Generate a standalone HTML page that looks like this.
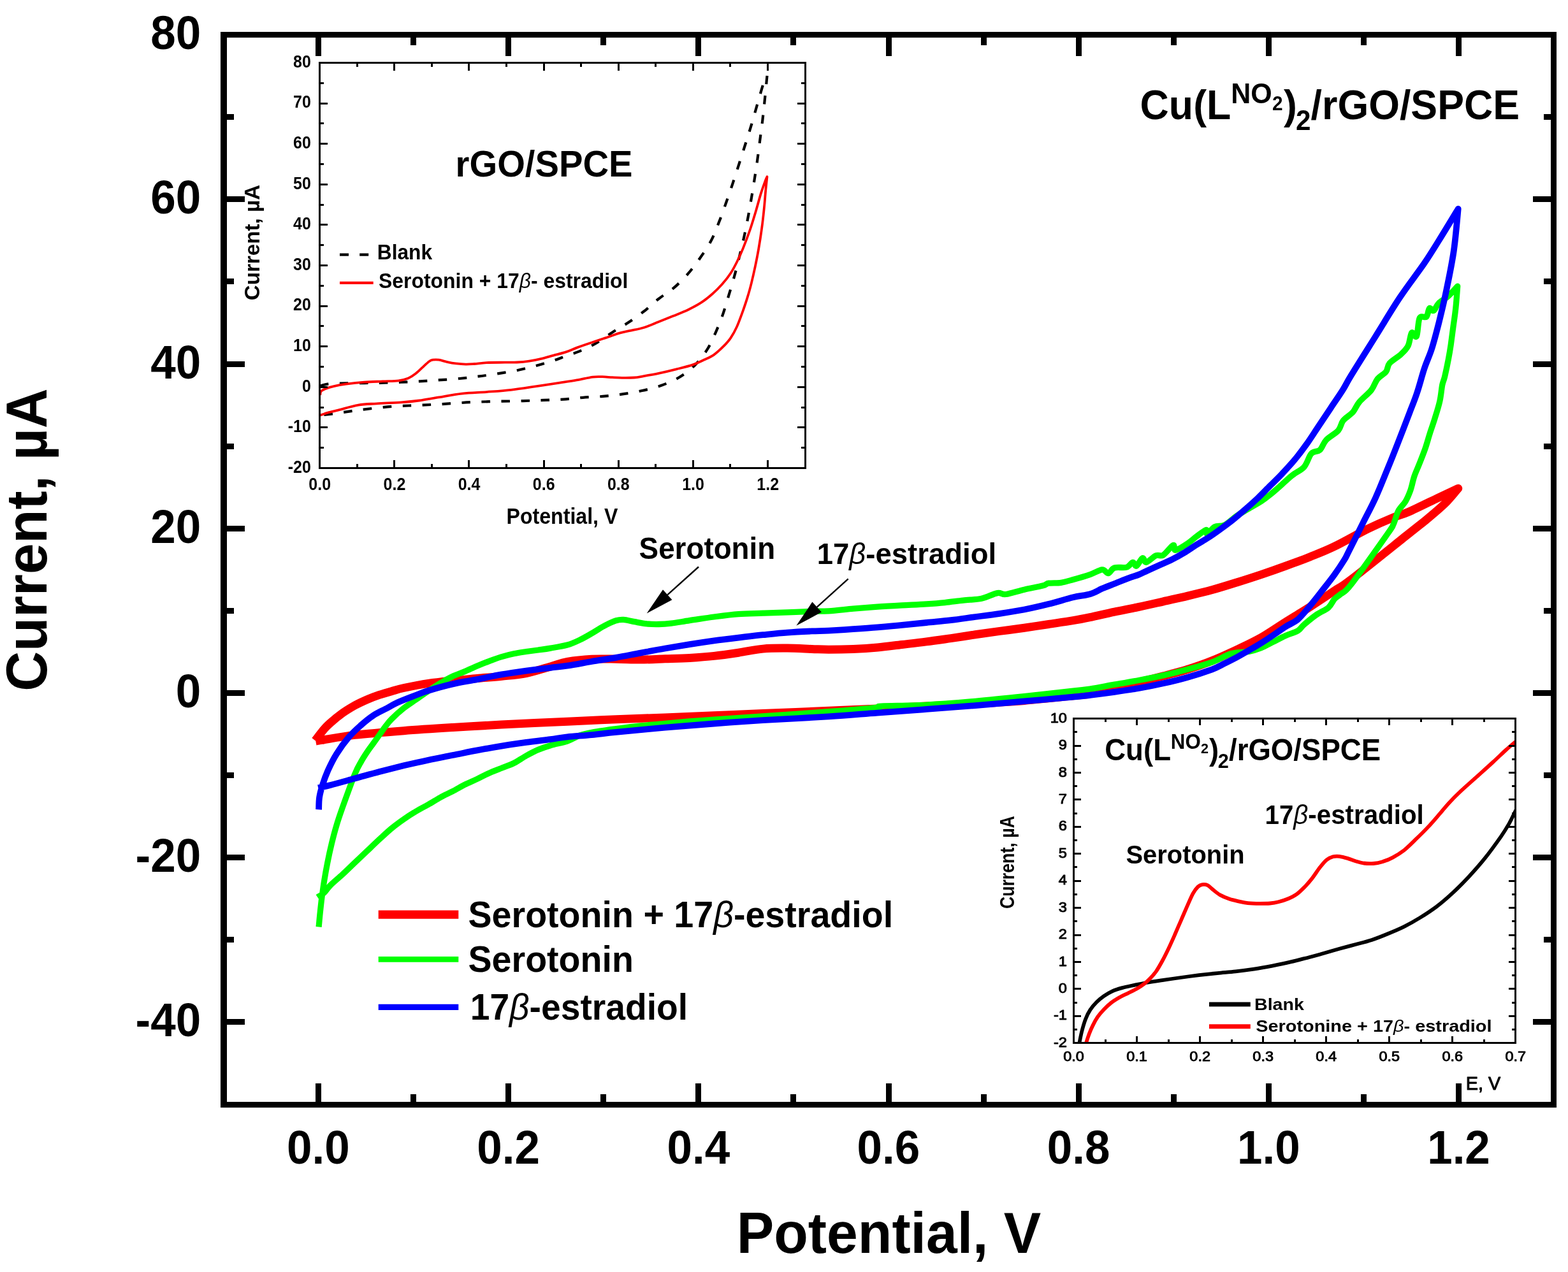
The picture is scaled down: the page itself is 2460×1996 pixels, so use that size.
<!DOCTYPE html>
<html lang="en">
<head>
<meta charset="utf-8">
<title>Cyclic voltammograms of serotonin and 17β-estradiol</title>
<style>
html,body{margin:0;padding:0;background:#fff;}
body{width:2460px;height:1996px;overflow:hidden;}
svg{display:block;}
</style>
</head>
<body>
<svg width="2460" height="1996" viewBox="0 0 2460 1996" font-family="'Liberation Sans', sans-serif" font-weight="bold" fill="#000">
<rect width="2460" height="1996" fill="#fff"/>
<g fill="none" stroke-linejoin="round" stroke-linecap="butt">
<path d="M494.4 1162C496.8 1159 504.8 1148.4 508.8 1143.8C512.8 1139.1 513.6 1138.3 518.4 1134.2C523.2 1130 531.2 1123.4 537.6 1118.8C544 1114.3 550.4 1110.5 556.7 1106.9C563.1 1103.4 569.5 1100.5 575.9 1097.7C582.3 1095 588.7 1092.6 595.1 1090.4C601.5 1088.3 607.9 1086.5 614.3 1084.7C620.7 1082.9 623.9 1081.6 633.5 1079.5C643.1 1077.5 659.1 1074.3 671.9 1072.4C684.7 1070.5 697.4 1069.3 710.2 1068C723 1066.7 735.8 1065.7 748.6 1064.5C761.4 1063.4 774.2 1062.6 787 1061.3C799.8 1059.9 812.6 1059 825.4 1056.5C838.1 1053.9 853 1048.9 863.7 1045.9C874.5 1042.9 879.2 1040.4 890 1038.4C900.8 1036.5 915.6 1034.9 928.4 1034.2C941.2 1033.5 954 1034 966.7 1034.2C979.5 1034.3 992.3 1035.2 1005.1 1035.1C1017.9 1035.1 1030.7 1034.3 1043.5 1033.8C1056.3 1033.4 1069.1 1033.2 1081.9 1032.5C1094.7 1031.7 1107.4 1030.8 1120.2 1029.4C1133 1028 1145.8 1026.1 1158.6 1024.2C1171.4 1022.3 1184.2 1019.3 1197 1018.1C1209.8 1016.9 1222.6 1017 1235.4 1017.1C1248.1 1017.2 1263 1018.1 1273.7 1018.5C1284.5 1018.8 1289.2 1019.2 1300 1019.2C1310.8 1019.2 1325.6 1019 1338.4 1018.5C1351.2 1017.9 1364 1017.1 1376.7 1016C1389.5 1014.8 1402.3 1013 1415.1 1011.5C1427.9 1010 1440.7 1008.6 1453.5 1006.9C1466.3 1005.3 1479.1 1003.4 1491.9 1001.6C1504.7 999.7 1517.4 997.7 1530.2 995.8C1543 994 1555.8 992.2 1568.6 990.4C1581.4 988.7 1594.2 987.1 1607 985.3C1619.8 983.4 1632.6 981.4 1645.4 979.5C1658.1 977.6 1673 975.5 1683.7 973.7C1694.5 972 1699.2 971 1710 968.7C1720.8 966.4 1735.6 962.8 1748.4 960.1C1761.2 957.4 1774 955.1 1786.7 952.4C1799.5 949.7 1812.3 946.7 1825.1 943.8C1837.9 940.9 1850.7 938.2 1863.5 935.1C1876.3 932.1 1889.1 929.1 1901.9 925.6C1914.7 922 1927.4 918 1940.2 914C1953 910 1965.8 905.9 1978.6 901.6C1991.4 897.3 2004.2 892.8 2017 888.1C2029.8 883.5 2042.6 878.9 2055.4 873.7C2068.1 868.6 2078.7 864.7 2093.7 857.4C2108.7 850.2 2130.4 837.6 2145.4 830.1C2160.4 822.7 2173 817.3 2183.7 812.9C2194.5 808.4 2197.8 808.6 2210 803.3C2222.2 797.9 2244 787 2257 780.8C2269.9 774.7 2282.6 768.8 2287.7 766.4C2284.2 770.4 2274.9 782.3 2266.6 790.4C2258.3 798.6 2247.4 807.4 2237.8 815.4C2228.2 823.3 2228.6 822.7 2209 838.4C2189.4 854 2139.2 894.5 2120 909.2C2100.8 924 2104.5 919.7 2093.7 926.9C2083 934.1 2068.1 944 2055.4 952.2C2042.6 960.4 2029.8 968 2017 976C2004.2 984 1991.4 993.1 1978.6 1000.4C1965.8 1007.6 1953 1013.5 1940.2 1019.6C1927.4 1025.6 1914.7 1031.5 1901.9 1036.6C1889.1 1041.8 1876.3 1046.2 1863.5 1050.3C1850.7 1054.3 1837.9 1057.5 1825.1 1060.8C1812.3 1064.2 1799.5 1067.4 1786.7 1070.4C1774 1073.4 1761.2 1076 1748.4 1079C1735.6 1082.1 1720.8 1086.8 1710 1088.9C1699.2 1091 1700.9 1090 1683.7 1091.7C1666.6 1093.5 1632.6 1097.3 1607 1099.4C1581.4 1101.5 1555.8 1102.8 1530.2 1104.2C1504.7 1105.7 1479.1 1106.8 1453.5 1108.1C1427.9 1109.3 1402.3 1110.7 1376.7 1111.9C1351.2 1113.1 1330 1114.1 1300 1115.3C1270.1 1116.6 1226.9 1118.3 1197 1119.6C1167 1120.8 1145.8 1121.8 1120.2 1122.8C1094.7 1123.9 1069.1 1124.9 1043.5 1125.9C1017.9 1126.9 992.3 1127.7 966.7 1128.8C941.2 1129.8 920 1130.9 890 1132.3C860.1 1133.6 816.9 1135.5 787 1137.1C757 1138.6 735.8 1139.9 710.2 1141.5C684.7 1143.1 659.1 1144.7 633.5 1146.7C607.9 1148.6 578.2 1150.9 556.7 1153.4C535.3 1155.8 515.2 1159.8 504.9 1161.4C494.7 1163 496.9 1162.7 495.3 1163" stroke="#f00" stroke-width="13"/>
<path d="M500.1 1454.4C500.5 1450.8 501.3 1440.9 502.1 1433.3C502.9 1425.6 503.8 1416.9 504.9 1408.3C506.1 1399.7 507.3 1390.4 508.8 1381.5C510.2 1372.5 511.7 1364.2 513.6 1354.6C515.5 1345 517.9 1333.8 520.3 1323.9C522.7 1314 525.1 1304.7 528 1295.1C530.8 1285.5 532.8 1279.7 537.6 1266.3C542.4 1252.9 551.9 1226.6 556.7 1214.8C561.5 1203 563.1 1201.3 566.3 1195.6C569.5 1189.8 572.7 1185 575.9 1180.2C579.1 1175.4 582.3 1171.3 585.5 1166.8C588.7 1162.3 591.9 1157.9 595.1 1153.4C598.3 1148.9 601.5 1144.1 604.7 1139.9C607.9 1135.8 609.5 1133.2 614.3 1128.4C619.1 1123.6 627.1 1116.3 633.5 1111.2C639.9 1106 646.3 1102.2 652.7 1097.7C659.1 1093.3 665.5 1088.6 671.9 1084.3C678.3 1080 684.7 1075.7 691.1 1071.8C697.4 1068 703.8 1064.3 710.2 1061.3C716.6 1058.2 723 1056.3 729.4 1053.6C735.8 1050.9 742.2 1047.7 748.6 1045C755 1042.3 761.4 1039.7 767.8 1037.3C774.2 1034.9 780.6 1032.5 787 1030.6C793.4 1028.7 799.8 1027.1 806.2 1025.8C812.6 1024.4 819 1023.5 825.4 1022.5C831.8 1021.6 838.1 1020.9 844.5 1020C850.9 1019.1 856.2 1018.5 863.7 1017.1C871.3 1015.8 882.4 1014.2 890 1012.1C897.6 1010 902.8 1007.5 909.2 1004.4C915.6 1001.4 922 997.6 928.4 993.9C934.8 990.2 941.2 985.7 947.6 982.4C954 979 961.6 975.4 966.7 973.7C971.9 972.1 973.5 972.1 978.3 972.4C983.1 972.7 989.4 974.6 995.5 975.7C1001.6 976.8 1008.3 978.3 1014.7 978.9C1021.1 979.6 1027.5 979.6 1033.9 979.5C1040.3 979.4 1045.1 979.1 1053.1 978.2C1061.1 977.2 1070.7 975.4 1081.9 973.7C1093.1 972.1 1107.4 969.7 1120.2 968C1133 966.3 1145.8 964.5 1158.6 963.6C1171.4 962.6 1184.2 962.7 1197 962.2C1209.8 961.8 1222.6 961.4 1235.4 960.9C1248.1 960.4 1263 959.7 1273.7 959.4C1284.5 959 1289.2 959.5 1300 958.8C1310.8 958.1 1325.6 956.3 1338.4 955.1C1351.2 954 1364 953 1376.7 952.1C1389.5 951.2 1402.3 950.5 1415.1 949.8C1427.9 949.1 1442.3 948.6 1453.5 947.8C1464.7 947.1 1472.7 946.5 1482.3 945.5C1491.9 944.6 1501.5 943.1 1511.1 942.1C1520.6 941 1530.9 941.1 1539.8 939.2C1548.8 937.3 1558.4 931.7 1564.8 930.6C1571.2 929.5 1571.2 933.4 1578.2 932.5C1585.2 931.6 1597.4 927.4 1607 925.2C1616.6 923 1629.4 920.7 1635.8 919.1C1642.2 917.4 1640.6 916 1645.4 915.2C1650.2 914.4 1658.1 915.2 1664.5 914.3C1670.9 913.3 1676.2 911.6 1683.7 909.5C1691.3 907.4 1702.4 904.2 1710 901.6C1717.6 899 1724.4 894.2 1729.2 893.9C1734 893.6 1735.6 900.1 1738.8 899.7C1742 899.2 1743.6 892.6 1748.4 891C1753.2 889.4 1762.8 891.5 1767.6 890.1C1772.4 888.6 1774.6 882.7 1777.2 882.4C1779.7 882.1 1780.4 889.3 1782.9 888.1C1785.5 887 1789.9 876.6 1792.5 875.7C1795.1 874.7 1794.7 883 1798.3 882.4C1801.8 881.7 1809.1 873.7 1813.6 871.8C1818.1 869.9 1820.6 873.6 1825.1 870.9C1829.6 868.2 1837.3 856.8 1840.5 855.5C1843.7 854.2 1840.5 863.7 1844.3 863.2C1848.1 862.7 1858.1 856.2 1863.5 852.6C1868.9 849.1 1872.1 845.6 1876.9 842.1C1881.7 838.6 1889.4 832.2 1892.3 831.5C1895.1 830.9 1892 839.1 1894.2 838.3C1896.4 837.5 1901.2 829.1 1905.7 826.7C1910.2 824.3 1915.3 826.7 1921.1 823.9C1926.8 821 1934.5 813.5 1940.2 809.5C1946 805.5 1949.3 803.8 1955.8 800C1962.2 796.2 1972.4 790.7 1978.8 786.6C1985.2 782.4 1989.3 778.9 1994.1 775.1C1998.9 771.2 2002.1 768.3 2007.6 763.5C2013 758.8 2020.4 751.4 2026.7 746.3C2033.1 741.2 2040.8 738.6 2045.9 732.9C2051 727.1 2053.3 716.2 2057.4 711.7C2061.6 707.3 2067 709.5 2070.9 706C2074.7 702.5 2075.7 695.8 2080.5 690.6C2085.3 685.5 2095.2 680.4 2099.7 675.3C2104.1 670.2 2103.5 664.7 2107.3 659.9C2111.2 655.1 2118.5 651.3 2122.7 646.5C2126.8 641.7 2127.5 636.9 2132.3 631.2C2137.1 625.4 2146.7 618.1 2151.5 612C2156.3 605.9 2157.2 599.5 2161.1 594.7C2164.9 589.9 2171.3 587.4 2174.5 583.2C2177.7 579 2176.4 574.2 2180.2 569.8C2184.1 565.3 2192.7 560.8 2197.5 556.3C2202.3 551.9 2206.1 548.6 2209 542.9C2211.9 537.2 2212.5 524.6 2214.8 522C2217 519.5 2220.4 531.6 2222.4 527.8C2224.5 524 2224.7 504.1 2227.2 499C2229.8 493.9 2235.2 499.7 2237.8 497.1C2240.4 494.5 2240.7 485.3 2242.6 483.7C2244.5 482.1 2246.9 488.8 2249.3 487.5C2251.7 486.2 2253.1 479.8 2257 476C2260.8 472.2 2267.4 469 2272.3 464.5C2277.3 460 2284.3 451.7 2286.7 449.1C2286.2 454.9 2285 473.1 2283.8 483.7C2282.7 494.2 2281.3 502.9 2280 512.4C2278.7 522 2277.4 532.6 2276.2 541.2C2274.9 549.9 2273.9 555.9 2272.3 564.2C2270.7 572.6 2268.2 584.4 2266.6 591.1C2265 597.8 2264 597.9 2262.7 604.3C2261.5 610.7 2260.8 620.6 2258.9 629.2C2257 637.9 2253.8 647.8 2251.2 656.1C2248.7 664.4 2246.1 671.1 2243.6 679.1C2241 687.1 2238.8 695.8 2235.9 704.1C2233 712.4 2229.2 721.7 2226.3 729C2223.4 736.4 2220.8 741.5 2218.6 748.2C2216.4 754.9 2215.1 762.9 2212.9 769.3C2210.6 775.7 2208.4 781.1 2205.2 786.6C2202 792 2196.9 795.8 2193.7 801.9C2190.5 808 2188.9 817 2186 823C2183.1 829.1 2187.4 822.7 2176.4 838.4C2165.4 854 2132.2 901.3 2120 916.9C2107.8 932.6 2107.7 928.4 2103.3 932.3C2098.9 936.1 2096.9 936.4 2093.7 939.9C2090.5 943.5 2088.9 949.2 2084.1 953.4C2079.3 957.5 2071.3 960.4 2065 964.9C2058.6 969.4 2050.6 976.1 2045.8 980.2C2041 984.4 2041 986.9 2036.2 989.8C2031.4 992.7 2023.4 994.6 2017 997.5C2010.6 1000.4 2004.2 1003.9 1997.8 1007.1C1991.4 1010.3 1985 1014.1 1978.6 1016.7C1972.2 1019.2 1967.1 1021 1959.4 1022.4C1951.7 1023.9 1942.2 1022.6 1932.6 1025.3C1923 1028 1913.4 1034.6 1901.9 1038.8C1890.4 1042.9 1876.3 1046.7 1863.5 1050.3C1850.7 1053.8 1837.9 1057 1825.1 1059.9C1812.3 1062.7 1799.5 1065.1 1786.7 1067.5C1774 1069.9 1761.2 1072 1748.4 1074.2C1735.6 1076.5 1720.8 1079.6 1710 1081.2C1699.2 1082.8 1700.9 1082.2 1683.7 1084.1C1666.6 1086 1632.6 1090 1607 1092.7C1581.4 1095.4 1555.8 1098.1 1530.2 1100.4C1504.7 1102.6 1478.1 1104.9 1453.5 1106.1C1428.9 1107.4 1395.3 1107.4 1382.5 1108.1C1369.7 1108.7 1390.5 1108.5 1376.7 1110C1363 1111.4 1330 1114.4 1300 1116.7C1270.1 1119 1226.9 1121.9 1197 1124C1167 1126.1 1139.4 1127.8 1120.2 1129.2C1101.1 1130.5 1094.7 1131 1081.9 1132C1069.1 1133.1 1056.3 1134.4 1043.5 1135.5C1030.7 1136.6 1017.9 1137.4 1005.1 1138.8C992.3 1140.1 979.5 1141.8 966.7 1143.5C954 1145.3 938 1147.5 928.4 1149.3C918.8 1151.1 915.6 1151.8 909.2 1154.1C902.8 1156.4 897.6 1160.4 890 1163C882.4 1165.6 871.3 1167.4 863.7 1169.7C856.2 1171.9 850.9 1173.7 844.5 1176.4C838.1 1179.1 831.8 1182.5 825.4 1186C819 1189.5 812.6 1194.3 806.2 1197.5C799.8 1200.7 793.4 1202.6 787 1205.2C780.6 1207.7 774.2 1210 767.8 1212.9C761.4 1215.7 755 1219.4 748.6 1222.4C742.2 1225.5 735.8 1227.9 729.4 1231.1C723 1234.3 716.6 1238.3 710.2 1241.6C703.8 1245 697.4 1247.7 691.1 1251.2C684.7 1254.7 678.3 1258.9 671.9 1262.5C665.5 1266.1 659.1 1269.2 652.7 1273.1C646.3 1276.9 639.9 1281 633.5 1285.5C627.1 1290 620.7 1294.6 614.3 1299.9C607.9 1305.2 601.5 1311.3 595.1 1317.2C588.7 1323.1 582.3 1329.3 575.9 1335.4C569.5 1341.5 563.1 1347.6 556.7 1353.6C550.4 1359.7 544 1365.9 537.6 1371.9C531.2 1377.8 523.2 1384.3 518.4 1389.1C513.6 1393.9 512.1 1397.5 508.8 1400.6C505.4 1403.8 500 1406.7 498.2 1407.9" stroke="#0f0" stroke-width="9.3"/>
<path d="M500.1 1270.4C500.3 1267.2 500.1 1257.6 501.1 1251.2C502.1 1244.8 503.7 1239.1 505.9 1232C508.1 1225 510.9 1217.2 514.5 1209C518.2 1200.9 522.5 1191.8 528 1183.1C533.4 1174.4 540.8 1164.3 547.2 1156.8C553.5 1149.3 559.9 1143.7 566.3 1138C572.7 1132.4 579.1 1127.1 585.5 1122.9C591.9 1118.6 598.3 1115.9 604.7 1112.5C611.1 1109.1 615.9 1106 623.9 1102.3C631.9 1098.7 644.7 1093.9 652.7 1090.8C660.7 1087.7 662.3 1086.6 671.9 1083.7C681.5 1080.8 697.4 1076.3 710.2 1073.4C723 1070.4 735.8 1068.6 748.6 1066.1C761.4 1063.6 774.2 1060.6 787 1058.4C799.8 1056.2 812.6 1054.4 825.4 1052.6C838.1 1050.9 853 1049.2 863.7 1047.8C874.5 1046.5 879.2 1046.4 890 1044.7C900.8 1043.1 915.6 1040.2 928.4 1038C941.2 1035.9 954 1034.1 966.7 1031.9C979.5 1029.6 992.3 1027 1005.1 1024.6C1017.9 1022.2 1030.7 1019.7 1043.5 1017.5C1056.3 1015.3 1069.1 1013.2 1081.9 1011.2C1094.7 1009.1 1107.4 1007.2 1120.2 1005.4C1133 1003.6 1145.8 1002.1 1158.6 1000.6C1171.4 999.1 1184.2 997.5 1197 996.2C1209.8 994.9 1222.6 993.5 1235.4 992.6C1248.1 991.6 1263 990.9 1273.7 990.4C1284.5 990 1289.2 990.2 1300 989.7C1310.8 989.1 1325.6 988.1 1338.4 987.2C1351.2 986.3 1364 985.4 1376.7 984.3C1389.5 983.2 1402.3 982.1 1415.1 980.8C1427.9 979.6 1440.7 978.3 1453.5 977C1466.3 975.7 1479.1 974.7 1491.9 973.2C1504.7 971.7 1517.4 969.7 1530.2 968C1543 966.3 1555.8 964.7 1568.6 962.8C1581.4 960.9 1594.2 959 1607 956.5C1619.8 954 1632.6 951 1645.4 947.8C1658.1 944.6 1673 939.9 1683.7 937.3C1694.5 934.7 1702.4 934.5 1710 932.3C1717.6 930 1722.8 926.4 1729.2 923.6C1735.6 920.9 1742 918.5 1748.4 916C1754.8 913.4 1761.2 910.7 1767.6 908.3C1774 905.9 1781.3 903.7 1786.7 901.6C1792.2 899.4 1794.6 897.8 1800 895.4C1805.4 892.9 1812.8 889.6 1819.2 886.7C1825.6 883.8 1832 881.3 1838.4 878.1C1844.8 874.9 1851.2 871.4 1857.6 867.5C1864 863.7 1870.4 859.1 1876.7 855.1C1883.1 851.1 1889.5 847.7 1895.9 843.5C1902.3 839.4 1908.7 834.8 1915.1 830.1C1921.5 825.5 1927.9 820.8 1934.3 815.7C1940.7 810.6 1947.1 805 1953.5 799.4C1959.9 793.8 1966.3 788.2 1972.7 782.2C1979.1 776.1 1985.5 769.4 1991.9 763C1998.3 756.6 2004.7 750.5 2011.1 743.8C2017.4 737.1 2023.8 730.3 2030.2 722.7C2036.6 715 2043 706.7 2049.4 697.7C2055.8 688.8 2062.2 678.5 2068.6 669C2075 659.4 2081.4 649.8 2087.8 640.2C2094.2 630.6 2101.7 619.9 2107 611.4C2112.3 602.9 2111.1 603.3 2119.6 589.4C2128.1 575.4 2145.2 548.4 2158 528C2170.8 507.5 2183.6 485.7 2196.4 466.6C2209.2 447.4 2223.9 428.8 2234.8 412.8C2245.6 396.9 2252.8 384.8 2261.6 370.6C2270.4 356.4 2283.4 334.8 2287.7 327.7C2286.6 338.7 2283.9 372.4 2280.8 393.7C2277.7 414.9 2273.1 436.5 2269.3 455.1C2265.5 473.6 2261.6 489.6 2257.8 504.9C2253.9 520.3 2250.1 535 2246.3 547.1C2242.4 559.3 2238.6 566.3 2234.8 577.8C2230.9 589.4 2227.1 604.7 2223.2 616.2C2219.4 627.7 2216.9 633.5 2211.7 646.9C2206.6 660.3 2198.3 682.1 2192.5 696.8C2186.8 711.5 2183 721.1 2177.2 735.2C2171.4 749.2 2164.4 767.1 2158 781.2C2151.6 795.3 2145.9 805.5 2138.8 819.6C2131.8 833.7 2120.8 855.8 2115.8 865.6C2110.8 875.5 2112.8 872.6 2109.1 878.5C2105.4 884.5 2099.5 893.6 2093.7 901.6C2088 909.6 2080.9 918.4 2074.5 926.5C2068.1 934.7 2061.8 942.9 2055.4 950.5C2049 958.1 2042.6 966.5 2036.2 972C2029.8 977.5 2023.4 979.2 2017 983.3C2010.6 987.4 2004.2 992.2 1997.8 996.5C1991.4 1000.9 1985 1005.2 1978.6 1009.2C1972.2 1013.2 1965.8 1016.8 1959.4 1020.5C1953 1024.2 1946.6 1028 1940.2 1031.5C1933.8 1034.9 1927.4 1038.1 1921.1 1041.2C1914.7 1044.4 1911.5 1046.7 1901.9 1050.3C1892.3 1053.8 1876.3 1059.1 1863.5 1062.7C1850.7 1066.4 1837.9 1069.5 1825.1 1072.3C1812.3 1075.2 1799.5 1077.8 1786.7 1080C1774 1082.2 1761.2 1084 1748.4 1085.8C1735.6 1087.6 1720.8 1089.5 1710 1090.8C1699.2 1092.1 1700.9 1092.1 1683.7 1093.7C1666.6 1095.3 1632.6 1098.1 1607 1100.4C1581.4 1102.6 1555.8 1105 1530.2 1107.1C1504.7 1109.2 1479.1 1110.9 1453.5 1112.9C1427.9 1114.8 1402.3 1116.7 1376.7 1118.6C1351.2 1120.5 1330 1122.4 1300 1124.4C1270.1 1126.3 1226.9 1128.3 1197 1130.1C1167 1132 1145.8 1133.6 1120.2 1135.5C1094.7 1137.4 1069.1 1139.4 1043.5 1141.6C1017.9 1143.9 985.9 1147 966.7 1148.9C947.6 1150.8 941.2 1151.9 928.4 1153.1C915.6 1154.4 900.8 1155.1 890 1156.3C879.2 1157.4 874.5 1158.6 863.7 1160.1C853 1161.5 838.1 1163.1 825.4 1164.9C812.6 1166.6 799.8 1168.6 787 1170.6C774.2 1172.7 761.4 1175 748.6 1177.4C735.8 1179.8 723 1182.5 710.2 1185C697.4 1187.6 684.7 1190 671.9 1192.7C659.1 1195.4 646.3 1198.3 633.5 1201.3C620.7 1204.4 607.9 1207.6 595.1 1210.9C582.3 1214.3 569.5 1218 556.7 1221.5C544 1225 528 1229.6 518.4 1232C508.8 1234.5 502.4 1235.6 499.2 1236.3" stroke="#00f" stroke-width="9.8"/>
</g>
<path d="M346 50H2442V59H346ZM346 1729H2442V1738H346ZM346 50H356V1738H346ZM2433 50H2442V1738H2433ZM495 59H504V88H495ZM495 1700H504V1729H495ZM644 59H653V71H644ZM644 1717H653V1729H644ZM793 59H802V88H793ZM793 1700H802V1729H793ZM942 59H951V71H942ZM942 1717H951V1729H942ZM1091 59H1100V88H1091ZM1091 1700H1100V1729H1091ZM1240 59H1249V71H1240ZM1240 1717H1249V1729H1240ZM1390 59H1399V88H1390ZM1390 1700H1399V1729H1390ZM1539 59H1548V71H1539ZM1539 1717H1548V1729H1539ZM1688 59H1697V88H1688ZM1688 1700H1697V1729H1688ZM1837 59H1846V71H1837ZM1837 1717H1846V1729H1837ZM1986 59H1995V88H1986ZM1986 1700H1995V1729H1986ZM2135 59H2144V71H2135ZM2135 1717H2144V1729H2135ZM2284 59H2293V88H2284ZM2284 1700H2293V1729H2284ZM356 1599H384V1608H356ZM2405 1599H2433V1608H2405ZM356 1470H367V1479H356ZM2422 1470H2433V1479H2422ZM356 1341H384V1350H356ZM2405 1341H2433V1350H2405ZM356 1212H367V1221H356ZM2422 1212H2433V1221H2422ZM356 1083H384V1092H356ZM2405 1083H2433V1092H2405ZM356 954H367V963H356ZM2422 954H2433V963H2422ZM356 825H384V834H356ZM2405 825H2433V834H2405ZM356 696H367V705H356ZM2422 696H2433V705H2422ZM356 567H384V576H356ZM2405 567H2433V576H2405ZM356 437H367V446H356ZM2422 437H2433V446H2422ZM356 308H384V317H356ZM2405 308H2433V317H2405ZM356 179H367V188H356ZM2422 179H2433V188H2422Z" shape-rendering="crispEdges"/>
<text transform="translate(315.2 1626.4) scale(1 1.035)" font-size="71" text-anchor="end">-40</text>
<text transform="translate(315.2 1368.2) scale(1 1.035)" font-size="71" text-anchor="end">-20</text>
<text transform="translate(315.2 1110) scale(1 1.035)" font-size="71" text-anchor="end">0</text>
<text transform="translate(315.2 851.8) scale(1 1.035)" font-size="71" text-anchor="end">20</text>
<text transform="translate(315.2 593.6) scale(1 1.035)" font-size="71" text-anchor="end">40</text>
<text transform="translate(315.2 335.3) scale(1 1.035)" font-size="71" text-anchor="end">60</text>
<text transform="translate(315.2 77.1) scale(1 1.035)" font-size="71" text-anchor="end">80</text>
<text transform="translate(499.4 1826.2) scale(1 1.035)" font-size="71" text-anchor="middle">0.0</text>
<text transform="translate(797.6 1826.2) scale(1 1.035)" font-size="71" text-anchor="middle">0.2</text>
<text transform="translate(1095.8 1826.2) scale(1 1.035)" font-size="71" text-anchor="middle">0.4</text>
<text transform="translate(1393.9 1826.2) scale(1 1.035)" font-size="71" text-anchor="middle">0.6</text>
<text transform="translate(1692.1 1826.2) scale(1 1.035)" font-size="71" text-anchor="middle">0.8</text>
<text transform="translate(1990.3 1826.2) scale(1 1.035)" font-size="71" text-anchor="middle">1.0</text>
<text transform="translate(2288.5 1826.2) scale(1 1.035)" font-size="71" text-anchor="middle">1.2</text>
<text transform="translate(1155.8 1965.8) scale(1 1.025)" font-size="87.7">Potential, V</text>
<text transform="translate(73.4 1084.7) rotate(-90) scale(1 1.035)" font-size="87">Current, µA</text>
<text transform="translate(1788.6 187) scale(1 1.035)" font-size="62.7"><tspan x="0" y="0">Cu(L</tspan><tspan x="142.6" y="-24.1" font-size="43">NO</tspan><tspan x="207.5" y="-13.7" font-size="29.8">2</tspan><tspan x="225.5" y="0">)</tspan><tspan x="244.3" y="16.3" font-size="42.2">2</tspan><tspan x="268" y="0">/rGO/SPCE</tspan></text>
<text transform="translate(1002.6 876.9) scale(1 1.035)" font-size="45.8">Serotonin</text>
<text transform="translate(1281.7 885) scale(1 1.035)" font-size="45.5">17<tspan font-style="italic" font-weight="normal">β</tspan>-estradiol</text>
<path d="M1096 889.5L1047.2 933.3" stroke="#000" stroke-width="2.4" fill="none"/><path d="M1014.7 962.4L1040 925.3L1054.4 941.3Z"/>
<path d="M1330.7 908.3L1281.7 952.6" stroke="#000" stroke-width="2.4" fill="none"/><path d="M1249.3 981.8L1274.4 944.6L1288.9 960.6Z"/>
<path d="M593.7 1435.1H719.3" stroke="#f00" stroke-width="13.3"/>
<path d="M593.7 1505.4H719.3" stroke="#0f0" stroke-width="8.8"/>
<path d="M593.7 1580.4H719.3" stroke="#00f" stroke-width="9.4"/>
<text transform="translate(734.5 1454.8) scale(1 1.035)" font-size="55.6">Serotonin + 17<tspan font-style="italic" font-weight="normal">β</tspan>-estradiol</text>
<text transform="translate(734.5 1525.4) scale(1 1.035)" font-size="55.6">Serotonin</text>
<text transform="translate(737.7 1600) scale(1 1.035)" font-size="55.2">17<tspan font-style="italic" font-weight="normal">β</tspan>-estradiol</text>
<g fill="none" stroke-linejoin="round">
<path d="M502.3 605.5C504.3 605 509 603.3 514.2 602.6C519.3 602 523.7 601.9 533.3 601.7C542.9 601.4 560.5 601.2 571.6 601.1C582.8 600.9 590.8 600.9 600.4 600.7C610 600.5 619.5 600.1 629.1 599.7C638.7 599.4 648.3 598.9 657.9 598.4C667.4 597.9 676.1 597.2 686.6 596.5C697.1 595.8 710.5 595 721.1 594C731.6 593 739.9 592 749.8 590.7C759.7 589.5 770.2 587.9 780.5 586.3C790.7 584.7 801.2 583.2 811.1 581.2C821 579.1 830.3 576.8 839.9 574.3C849.4 571.7 860.6 568.5 868.6 565.8C876.6 563.2 881.1 561 887.8 558.6C894.4 556.1 901.1 554.5 908.7 551.4C916.4 548.2 925 544.4 933.6 539.5C942.3 534.5 951.8 527.2 960.5 521.7C969.1 516.1 977.1 511.9 985.4 506.3C993.7 500.8 1002.3 494.7 1010.3 488.5C1018.3 482.3 1025.4 475.1 1033.3 469C1041.1 462.8 1049.6 458.3 1057.2 451.7C1064.9 445.2 1072.4 437.5 1079.3 429.7C1086.1 421.9 1092.3 413.6 1098.4 404.8C1104.5 396 1111 386.6 1116 377.1C1121 367.5 1124.4 357.7 1128.4 347.6C1132.4 337.5 1136.2 326.4 1139.8 316.2C1143.4 306.1 1146.6 296.7 1149.9 286.8C1153.2 276.8 1156.4 266.6 1159.8 256.3C1163.1 246.1 1166.6 235.3 1169.8 225C1173.1 214.6 1176.3 204.5 1179.4 194.2C1182.4 183.9 1185.2 173.7 1188.3 163.2C1191.4 152.6 1195.3 138.3 1197.8 130.9C1200.3 123.4 1202.5 120.6 1203.5 118.5C1202.9 125 1200.9 145.8 1199.7 157.5C1198.5 169.2 1197.5 178.2 1196.3 188.9C1195 199.5 1193.5 210.4 1192.1 221.2C1190.7 232 1189.4 242.7 1187.9 253.5C1186.4 264.3 1184.6 275.2 1183 285.8C1181.3 296.4 1179.6 306.7 1177.8 317.2C1176 327.6 1174.2 338.1 1172.1 348.6C1170.1 359 1167.9 369.5 1165.5 379.9C1163.1 390.4 1160.1 402.4 1157.9 411.3C1155.6 420.2 1154.5 424.9 1152.1 433.5C1149.7 442.2 1146.5 453.2 1143.4 463.2C1140.4 473.3 1137.4 484 1133.9 493.9C1130.3 503.8 1126.5 513.4 1122.4 522.6C1118.2 531.9 1114.4 541 1108.9 549.4C1103.5 557.9 1097.1 566.2 1089.8 573.4C1082.4 580.6 1073.7 587.3 1064.9 592.5C1056.1 597.8 1046.7 601.6 1037.1 605C1027.5 608.4 1017.5 610.8 1007.4 613C997.3 615.3 987 616.9 976.8 618.4C966.5 619.9 956.5 621 946.1 621.9C935.7 622.8 924.8 623 914.5 623.8C904.1 624.6 894.1 625.9 883.9 626.6C873.7 627.3 863.8 627.5 853.3 627.9C842.7 628.3 832.5 628.7 820.7 629.1C808.9 629.4 795.5 629.5 782.4 629.8C769.3 630.1 754 630.5 742.2 631C730.3 631.5 721.7 632.2 711.5 632.9C701.3 633.5 691.1 634.3 680.8 634.8C670.6 635.3 660.4 635.7 650.2 636.1C640 636.6 630.1 636.8 619.5 637.5C609 638.2 597.5 639.4 587 640.6C576.4 641.7 566.2 643 556.3 644.4C546.4 645.7 536.6 647.4 527.6 648.6C518.6 649.8 506.5 651 502.3 651.5" stroke="#000" stroke-width="4.2" stroke-dasharray="13.5 17.5"/>
<path d="M502.3 619.9C502.5 618.9 502.3 615.7 503.6 614.1C505 612.5 507 611.6 510.3 610.3C513.7 608.9 518.3 607.3 523.7 606.1C529.2 604.8 534.9 603.7 542.9 602.6C550.9 601.6 562.1 600.4 571.6 599.7C581.2 599 591.4 598.8 600.4 598.4C609.3 598 618.6 598.1 625.3 597.3C632 596.4 636.1 595.2 640.6 593.4C645.1 591.6 648.3 589.3 652.1 586.3C655.9 583.4 660.1 579 663.6 575.8C667.1 572.6 670.6 569 673.2 567.2C675.7 565.3 676.4 565.1 678.9 564.7C681.5 564.3 684.7 564.1 688.5 564.7C692.3 565.3 697.4 567.2 701.9 568.1C706.4 569.1 710.5 569.9 715.3 570.4C720.1 571 725.9 571.5 730.7 571.6C735.4 571.7 738.6 571.4 744.1 571C749.5 570.6 755.2 569.5 763.2 569.1C771.2 568.7 784 568.8 792 568.7C799.9 568.6 804.7 568.9 811.1 568.5C817.5 568.2 823.9 567.6 830.3 566.6C836.7 565.6 843.1 564.3 849.4 562.8C855.8 561.3 862.2 559.3 868.6 557.6C875 555.9 881.7 554.4 887.8 552.4C893.8 550.4 897.9 548.2 904.9 545.6C911.9 543 921.2 539.9 929.8 537C938.4 534 949.6 530.4 956.6 528C963.7 525.6 966.9 524.1 972 522.6C977.1 521.1 980.9 520.6 987.3 519.2C993.7 517.7 1002.6 516.4 1010.3 514C1017.9 511.6 1025.6 508 1033.3 505C1040.9 502 1048.6 498.9 1056.3 495.8C1063.9 492.7 1071.9 489.7 1079.3 486.2C1086.6 482.7 1093.9 478.9 1100.3 474.7C1106.7 470.6 1112.1 466.1 1117.6 461.3C1123 456.5 1128.1 451.4 1132.9 446C1137.7 440.6 1142.5 434.5 1146.3 428.7C1150.1 423 1152.7 417.9 1155.9 411.5C1159.1 405.1 1162 399 1165.5 390.4C1169 381.8 1173.4 370.1 1176.9 360C1180.4 349.8 1183.5 339 1186.4 329.5C1189.2 320 1191.6 310.5 1194 302.9C1196.4 295.3 1199.1 288.2 1200.6 283.9C1202.2 279.6 1203 278.4 1203.5 277.3C1203.1 280.9 1202 290.7 1201.2 299.1C1200.4 307.5 1199.8 317.5 1198.7 327.6C1197.7 337.8 1196.4 349.5 1194.9 360C1193.5 370.4 1191.9 380.5 1190.2 390.4C1188.5 400.2 1186.5 410.2 1184.6 419.2C1182.7 428.1 1180.8 436.4 1178.9 444.1C1177 451.7 1175.4 457.8 1173.1 465.1C1170.9 472.5 1168.3 480.1 1165.5 488.1C1162.6 496.1 1159.1 506 1155.9 513C1152.7 520.1 1149.8 525.2 1146.3 530.3C1142.8 535.4 1139.3 539.2 1134.8 543.7C1130.3 548.2 1124.6 553.6 1119.5 557.1C1114.4 560.6 1109.6 562.2 1104.2 564.8C1098.7 567.3 1093.9 570 1086.9 572.4C1079.9 574.8 1071 576.9 1062 579.1C1053.1 581.4 1041.9 584 1033.3 585.8C1024.6 587.7 1016.7 588.9 1010.3 590.1C1003.9 591.2 1000.7 592.1 995 592.5C989.2 593 981.5 593 975.8 592.9C970 592.9 965.6 592.5 960.5 592.2C955.4 591.9 950.2 591.3 945.1 591.2C940 591.1 936.5 590.7 929.8 591.6C923.1 592.5 913.5 594.9 904.9 596.4C896.3 597.9 889 599 878.2 600.7C867.3 602.4 852.6 604.6 839.9 606.4C827.1 608.3 814.3 610.4 801.5 611.8C788.8 613.3 776 614.1 763.2 615.1C750.5 616 737.7 616.1 724.9 617.6C712.1 619 697.8 621.9 686.6 623.7C675.4 625.5 667.4 627.2 657.9 628.5C648.3 629.8 640.3 630.6 629.1 631.4C617.9 632.2 602 632.6 590.8 633.3C579.6 634 571.6 634 562.1 635.6C552.5 637.2 541.3 640.8 533.3 642.9C525.3 644.9 519.3 646.2 514.2 647.6C509 649.1 504.3 650.8 502.3 651.5" stroke="#f00" stroke-width="3.8"/>
</g>
<g stroke="#000" stroke-width="3" fill="none" shape-rendering="crispEdges">
<rect x="501.5" y="98.5" width="761.6" height="635.9"/>
<path d="M560.1 98.5v6.4M560.1 734.4v-6.4M618.7 98.5v12.3M618.7 734.4v-12.3M677.2 98.5v6.4M677.2 734.4v-6.4M735.8 98.5v12.3M735.8 734.4v-12.3M794.4 98.5v6.4M794.4 734.4v-6.4M853 98.5v12.3M853 734.4v-12.3M911.6 98.5v6.4M911.6 734.4v-6.4M970.1 98.5v12.3M970.1 734.4v-12.3M1028.7 98.5v6.4M1028.7 734.4v-6.4M1087.3 98.5v12.3M1087.3 734.4v-12.3M1145.9 98.5v6.4M1145.9 734.4v-6.4M1204.5 98.5v12.3M1204.5 734.4v-12.3M501.5 702.6h6.4M1263.1 702.6h-6.4M501.5 670.8h12.3M1263.1 670.8h-12.3M501.5 639h6.4M1263.1 639h-6.4M501.5 607.2h12.3M1263.1 607.2h-12.3M501.5 575.4h6.4M1263.1 575.4h-6.4M501.5 543.6h12.3M1263.1 543.6h-12.3M501.5 511.8h6.4M1263.1 511.8h-6.4M501.5 480h12.3M1263.1 480h-12.3M501.5 448.2h6.4M1263.1 448.2h-6.4M501.5 416.4h12.3M1263.1 416.4h-12.3M501.5 384.6h6.4M1263.1 384.6h-6.4M501.5 352.8h12.3M1263.1 352.8h-12.3M501.5 321h6.4M1263.1 321h-6.4M501.5 289.3h12.3M1263.1 289.3h-12.3M501.5 257.5h6.4M1263.1 257.5h-6.4M501.5 225.7h12.3M1263.1 225.7h-12.3M501.5 193.9h6.4M1263.1 193.9h-6.4M501.5 162.1h12.3M1263.1 162.1h-12.3M501.5 130.3h6.4M1263.1 130.3h-6.4"/>
</g>
<text transform="translate(487.8 741.7) scale(1 1.12)" font-size="25" text-anchor="end">-20</text>
<text transform="translate(487.8 678.1) scale(1 1.12)" font-size="25" text-anchor="end">-10</text>
<text transform="translate(487.8 614.5) scale(1 1.12)" font-size="25" text-anchor="end">0</text>
<text transform="translate(487.8 550.9) scale(1 1.12)" font-size="25" text-anchor="end">10</text>
<text transform="translate(487.8 487.3) scale(1 1.12)" font-size="25" text-anchor="end">20</text>
<text transform="translate(487.8 423.7) scale(1 1.12)" font-size="25" text-anchor="end">30</text>
<text transform="translate(487.8 360.1) scale(1 1.12)" font-size="25" text-anchor="end">40</text>
<text transform="translate(487.8 296.6) scale(1 1.12)" font-size="25" text-anchor="end">50</text>
<text transform="translate(487.8 233) scale(1 1.12)" font-size="25" text-anchor="end">60</text>
<text transform="translate(487.8 169.4) scale(1 1.12)" font-size="25" text-anchor="end">70</text>
<text transform="translate(487.8 105.8) scale(1 1.12)" font-size="25" text-anchor="end">80</text>
<text transform="translate(501.7 768.6) scale(1 1.115)" font-size="25" text-anchor="middle">0.0</text>
<text transform="translate(618.9 768.6) scale(1 1.115)" font-size="25" text-anchor="middle">0.2</text>
<text transform="translate(736 768.6) scale(1 1.115)" font-size="25" text-anchor="middle">0.4</text>
<text transform="translate(853.2 768.6) scale(1 1.115)" font-size="25" text-anchor="middle">0.6</text>
<text transform="translate(970.3 768.6) scale(1 1.115)" font-size="25" text-anchor="middle">0.8</text>
<text transform="translate(1087.5 768.6) scale(1 1.115)" font-size="25" text-anchor="middle">1.0</text>
<text transform="translate(1204.7 768.6) scale(1 1.115)" font-size="25" text-anchor="middle">1.2</text>
<text transform="translate(794.6 821.9) scale(1 1.08)" font-size="32.1">Potential, V</text>
<text transform="translate(407.1 471.3) rotate(-90) scale(1 0.993)" font-size="33.2">Current, µA</text>
<text transform="translate(714.6 277.2) scale(1 1.024)" font-size="56.2">rGO/SPCE</text>
<path d="M533 399.6H579" stroke="#000" stroke-width="4.4" stroke-dasharray="14 17.2"/>
<path d="M533 443.9H585.7" stroke="#f00" stroke-width="4.2"/>
<text transform="translate(591.8 407.3) scale(1 1.024)" font-size="31.7">Blank</text>
<text transform="translate(594.1 451.7) scale(1 1.035)" font-size="31.9">Serotonin + 17<tspan font-style="italic" font-weight="normal">β</tspan>- estradiol</text>
<clipPath id="c2"><rect x="1684.6" y="1127.6" width="693.2" height="509"/></clipPath>
<g fill="none" stroke-linejoin="round" clip-path="url(#c2)">
<path d="M1692.6 1643.6C1692.8 1642.4 1692.6 1641 1693.4 1636.8C1694.2 1632.7 1695.6 1624.9 1697.2 1618.6C1698.8 1612.4 1700.8 1605.2 1703 1599.5C1705.2 1593.7 1707.8 1588.6 1710.7 1584.2C1713.5 1579.7 1716.7 1576.2 1720.2 1572.7C1723.7 1569.2 1727.6 1566 1731.7 1563.1C1735.9 1560.2 1740.4 1557.6 1745.1 1555.4C1749.9 1553.2 1754.7 1551.7 1760.5 1550.1C1766.2 1548.5 1773.2 1547.2 1779.6 1545.8C1786 1544.5 1791.4 1543.3 1798.8 1542C1806.1 1540.7 1814.8 1539.5 1823.7 1538.2C1832.6 1536.8 1842.9 1535.3 1852.4 1534C1862 1532.6 1871.6 1531.3 1881.2 1530.1C1890.7 1529 1900.3 1528 1909.9 1527.1C1919.5 1526.1 1929.1 1525.5 1938.6 1524.4C1948.2 1523.3 1957.8 1522 1967.4 1520.6C1977 1519.1 1986.5 1517.4 1996.1 1515.6C2005.7 1513.7 2015.3 1511.7 2024.9 1509.4C2034.4 1507.2 2045.6 1504.2 2053.6 1502.2C2061.6 1500.1 2064.8 1499.2 2072.8 1497C2080.7 1494.8 2092.4 1491.3 2101.4 1488.8C2110.4 1486.3 2118.3 1484.3 2126.7 1482C2135.2 1479.7 2143.6 1477.7 2152.1 1474.9C2160.5 1472.1 2169 1468.7 2177.4 1465.2C2185.9 1461.8 2194.3 1458.3 2202.8 1454.1C2211.2 1449.9 2219.7 1445.1 2228.1 1439.9C2236.6 1434.7 2245 1429.3 2253.5 1422.9C2261.9 1416.5 2270.4 1409.2 2278.8 1401.4C2287.3 1393.6 2295.7 1385.1 2304.2 1376C2312.6 1366.9 2321.1 1357.4 2329.5 1346.9C2338 1336.3 2348.5 1321.7 2354.9 1312.6C2361.2 1303.6 2363.6 1299.3 2367.6 1292.4C2371.5 1285.4 2375.8 1276.1 2378.5 1270.8C2381.1 1265.5 2382.5 1262.4 2383.3 1260.7" stroke="#000" stroke-width="5.8"/>
<path d="M1702.2 1643.6C1702.5 1642.4 1702.9 1640.4 1703.9 1636.8C1705 1633.3 1707 1627.1 1708.7 1622.5C1710.5 1617.8 1712.3 1613.5 1714.5 1609.1C1716.7 1604.6 1719.3 1599.8 1722.1 1595.7C1725 1591.5 1728.2 1587.8 1731.7 1584.2C1735.2 1580.5 1739.1 1576.8 1743.2 1573.6C1747.4 1570.4 1752.2 1567.6 1756.6 1565C1761.1 1562.4 1765.6 1560.5 1770 1558.3C1774.5 1556.1 1779.3 1554 1783.5 1551.6C1787.6 1549.2 1791.4 1546.6 1795 1543.9C1798.5 1541.2 1801.3 1538.7 1804.5 1535.3C1807.7 1532 1810.9 1528.4 1814.1 1523.8C1817.3 1519.2 1820.5 1513.4 1823.7 1507.5C1826.9 1501.6 1830.1 1495.1 1833.3 1488.4C1836.5 1481.7 1839.7 1474.5 1842.9 1467.3C1846 1460.1 1849.2 1452.6 1852.4 1445.3C1855.6 1437.9 1858.8 1430.4 1862 1423.2C1865.2 1416 1868.7 1407.4 1871.6 1402.1C1874.5 1396.9 1876.9 1393.9 1879.3 1391.6C1881.6 1389.3 1883.4 1388.6 1886 1388.2C1888.5 1387.7 1891.9 1387.9 1894.6 1389.1C1897.3 1390.3 1899.1 1393 1902.2 1395.4C1905.4 1397.9 1909.3 1401.5 1913.7 1404.1C1918.2 1406.6 1924 1409 1929.1 1410.8C1934.2 1412.5 1939.6 1413.5 1944.4 1414.6C1949.2 1415.7 1952.4 1416.6 1957.8 1417.1C1963.2 1417.6 1971.2 1417.8 1977 1417.9C1982.7 1417.9 1987.5 1417.9 1992.3 1417.5C1997.1 1417 2000.9 1416.4 2005.7 1415.2C2010.5 1414 2016.2 1412.2 2021 1410.2C2025.8 1408.2 2030 1406.4 2034.4 1403.1C2038.9 1399.9 2043.9 1394.7 2047.9 1390.7C2051.8 1386.6 2054.4 1383.5 2058.3 1378.6C2062.2 1373.6 2067.2 1365.7 2071 1360.8C2074.8 1356 2077.7 1352.2 2081.1 1349.4C2084.5 1346.7 2087.9 1345.3 2091.3 1344.3C2094.6 1343.4 2097.6 1343.4 2101.4 1343.8C2105.2 1344.3 2109.8 1345.6 2114.1 1346.9C2118.3 1348.1 2122.5 1349.9 2126.7 1351.2C2131 1352.4 2134.8 1353.8 2139.4 1354.5C2144.1 1355.1 2149.6 1355.4 2154.6 1355C2159.7 1354.6 2164.8 1353.5 2169.8 1351.9C2174.9 1350.4 2179.6 1348.6 2185 1345.6C2190.5 1342.6 2196.9 1338.8 2202.8 1334.2C2208.7 1329.5 2214.2 1323.8 2220.5 1317.7C2226.9 1311.6 2234.5 1304.2 2240.8 1297.4C2247.1 1290.7 2253.1 1283.5 2258.6 1277.2C2264 1270.8 2268.3 1265.3 2273.8 1259.4C2279.3 1253.5 2284.3 1248.4 2291.5 1241.7C2298.7 1234.9 2308.4 1226.5 2316.9 1218.9C2325.3 1211.3 2334.6 1203 2342.2 1196C2349.8 1189.1 2356.4 1182.5 2362.5 1177C2368.5 1171.5 2375 1166.1 2378.5 1163.1C2381.9 1160.1 2382.5 1159.5 2383.3 1158.8" stroke="#f00" stroke-width="5.8"/>
</g>
<g stroke="#000" stroke-width="3" fill="none" shape-rendering="crispEdges">
<rect x="1684.6" y="1127.6" width="693.2" height="509"/>
<path d="M1734.1 1127.6v5.4M1734.1 1636.6v-5.4M1783.6 1127.6v10.8M1783.6 1636.6v-10.8M1833.1 1127.6v5.4M1833.1 1636.6v-5.4M1882.7 1127.6v10.8M1882.7 1636.6v-10.8M1932.2 1127.6v5.4M1932.2 1636.6v-5.4M1981.7 1127.6v10.8M1981.7 1636.6v-10.8M2031.2 1127.6v5.4M2031.2 1636.6v-5.4M2080.7 1127.6v10.8M2080.7 1636.6v-10.8M2130.2 1127.6v5.4M2130.2 1636.6v-5.4M2179.8 1127.6v10.8M2179.8 1636.6v-10.8M2229.3 1127.6v5.4M2229.3 1636.6v-5.4M2278.8 1127.6v10.8M2278.8 1636.6v-10.8M2328.3 1127.6v5.4M2328.3 1636.6v-5.4M1684.6 1615.4h5.4M2377.8 1615.4h-5.4M1684.6 1594.2h11.3M2377.8 1594.2h-11.3M1684.6 1573h5.4M2377.8 1573h-5.4M1684.6 1551.8h11.3M2377.8 1551.8h-11.3M1684.6 1530.6h5.4M2377.8 1530.6h-5.4M1684.6 1509.4h11.3M2377.8 1509.4h-11.3M1684.6 1488.2h5.4M2377.8 1488.2h-5.4M1684.6 1467h11.3M2377.8 1467h-11.3M1684.6 1445.8h5.4M2377.8 1445.8h-5.4M1684.6 1424.5h11.3M2377.8 1424.5h-11.3M1684.6 1403.3h5.4M2377.8 1403.3h-5.4M1684.6 1382.1h11.3M2377.8 1382.1h-11.3M1684.6 1360.9h5.4M2377.8 1360.9h-5.4M1684.6 1339.7h11.3M2377.8 1339.7h-11.3M1684.6 1318.5h5.4M2377.8 1318.5h-5.4M1684.6 1297.3h11.3M2377.8 1297.3h-11.3M1684.6 1276.1h5.4M2377.8 1276.1h-5.4M1684.6 1254.9h11.3M2377.8 1254.9h-11.3M1684.6 1233.6h5.4M2377.8 1233.6h-5.4M1684.6 1212.4h11.3M2377.8 1212.4h-11.3M1684.6 1191.2h5.4M2377.8 1191.2h-5.4M1684.6 1170h11.3M2377.8 1170h-11.3M1684.6 1148.8h5.4M2377.8 1148.8h-5.4"/>
</g>
<text transform="translate(1674 1642.7) scale(1 0.91)" font-size="23.7" text-anchor="end" font-weight="normal" stroke="#000" stroke-width="1" stroke-linejoin="round">-2</text>
<text transform="translate(1674 1600.3) scale(1 0.91)" font-size="23.7" text-anchor="end" font-weight="normal" stroke="#000" stroke-width="1" stroke-linejoin="round">-1</text>
<text transform="translate(1674 1557.9) scale(1 0.91)" font-size="23.7" text-anchor="end" font-weight="normal" stroke="#000" stroke-width="1" stroke-linejoin="round">0</text>
<text transform="translate(1674 1515.5) scale(1 0.91)" font-size="23.7" text-anchor="end" font-weight="normal" stroke="#000" stroke-width="1" stroke-linejoin="round">1</text>
<text transform="translate(1674 1473.1) scale(1 0.91)" font-size="23.7" text-anchor="end" font-weight="normal" stroke="#000" stroke-width="1" stroke-linejoin="round">2</text>
<text transform="translate(1674 1430.6) scale(1 0.91)" font-size="23.7" text-anchor="end" font-weight="normal" stroke="#000" stroke-width="1" stroke-linejoin="round">3</text>
<text transform="translate(1674 1388.2) scale(1 0.91)" font-size="23.7" text-anchor="end" font-weight="normal" stroke="#000" stroke-width="1" stroke-linejoin="round">4</text>
<text transform="translate(1674 1345.8) scale(1 0.91)" font-size="23.7" text-anchor="end" font-weight="normal" stroke="#000" stroke-width="1" stroke-linejoin="round">5</text>
<text transform="translate(1674 1303.4) scale(1 0.91)" font-size="23.7" text-anchor="end" font-weight="normal" stroke="#000" stroke-width="1" stroke-linejoin="round">6</text>
<text transform="translate(1674 1261) scale(1 0.91)" font-size="23.7" text-anchor="end" font-weight="normal" stroke="#000" stroke-width="1" stroke-linejoin="round">7</text>
<text transform="translate(1674 1218.5) scale(1 0.91)" font-size="23.7" text-anchor="end" font-weight="normal" stroke="#000" stroke-width="1" stroke-linejoin="round">8</text>
<text transform="translate(1674 1176.1) scale(1 0.91)" font-size="23.7" text-anchor="end" font-weight="normal" stroke="#000" stroke-width="1" stroke-linejoin="round">9</text>
<text transform="translate(1674 1133.7) scale(1 0.91)" font-size="23.7" text-anchor="end" font-weight="normal" stroke="#000" stroke-width="1" stroke-linejoin="round">10</text>
<text transform="translate(1684.6 1664.8) scale(1 0.905)" font-size="23.5" text-anchor="middle" font-weight="normal" stroke="#000" stroke-width="1" stroke-linejoin="round">0.0</text>
<text transform="translate(1783.6 1664.8) scale(1 0.905)" font-size="23.5" text-anchor="middle" font-weight="normal" stroke="#000" stroke-width="1" stroke-linejoin="round">0.1</text>
<text transform="translate(1882.7 1664.8) scale(1 0.905)" font-size="23.5" text-anchor="middle" font-weight="normal" stroke="#000" stroke-width="1" stroke-linejoin="round">0.2</text>
<text transform="translate(1981.7 1664.8) scale(1 0.905)" font-size="23.5" text-anchor="middle" font-weight="normal" stroke="#000" stroke-width="1" stroke-linejoin="round">0.3</text>
<text transform="translate(2080.7 1664.8) scale(1 0.905)" font-size="23.5" text-anchor="middle" font-weight="normal" stroke="#000" stroke-width="1" stroke-linejoin="round">0.4</text>
<text transform="translate(2179.8 1664.8) scale(1 0.905)" font-size="23.5" text-anchor="middle" font-weight="normal" stroke="#000" stroke-width="1" stroke-linejoin="round">0.5</text>
<text transform="translate(2278.8 1664.8) scale(1 0.905)" font-size="23.5" text-anchor="middle" font-weight="normal" stroke="#000" stroke-width="1" stroke-linejoin="round">0.6</text>
<text transform="translate(2377.8 1664.8) scale(1 0.905)" font-size="23.5" text-anchor="middle" font-weight="normal" stroke="#000" stroke-width="1" stroke-linejoin="round">0.7</text>
<text transform="translate(2299.7 1710.1) scale(1 1.02)" font-size="28.8" font-weight="normal" stroke="#000" stroke-width="1" stroke-linejoin="round">E, V</text>
<text transform="translate(1591.1 1426.1) rotate(-90) scale(1 1.14)" font-size="26.7">Current, µA</text>
<text transform="translate(1733.2 1192.8) scale(1 1.035)" font-size="45.6"><tspan x="0" y="0">Cu(L</tspan><tspan x="103.6" y="-17.5" font-size="31.3">NO</tspan><tspan x="150.8" y="-10" font-size="21.6">2</tspan><tspan x="163.9" y="0">)</tspan><tspan x="177.6" y="11.9" font-size="30.7">2</tspan><tspan x="194.8" y="0">/rGO/SPCE</tspan></text>
<text transform="translate(1984.5 1292.6) scale(1 1.035)" font-size="40.3">17<tspan font-style="italic" font-weight="normal">β</tspan>-estradiol</text>
<text transform="translate(1766.5 1355.1) scale(1 1.035)" font-size="39.9">Serotonin</text>
<path d="M1897 1576H1961.8" stroke="#000" stroke-width="7.2"/>
<path d="M1897 1610.7H1961.8" stroke="#f00" stroke-width="7"/>
<text transform="translate(1968 1585) scale(1 0.92)" font-size="28.6">Blank</text>
<text transform="translate(1970.2 1619.4) scale(1 0.885)" font-size="28.9">Serotonine + 17<tspan font-style="italic" font-weight="normal">β</tspan>- estradiol</text>
</svg>
</body>
</html>
